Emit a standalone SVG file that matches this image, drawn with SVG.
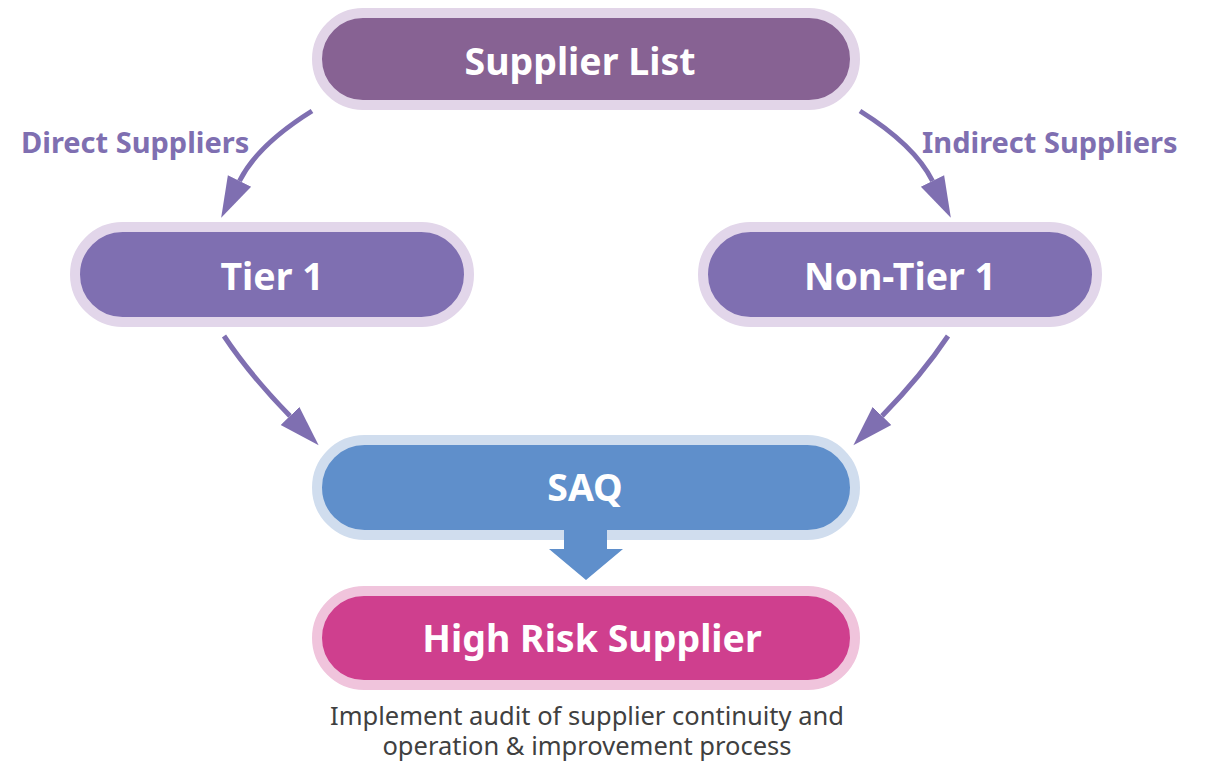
<svg xmlns="http://www.w3.org/2000/svg" width="1210" height="762" viewBox="0 0 1210 762">
<defs>
<style>
.node-text{font-family:"Noto Sans","Liberation Sans",sans-serif;font-weight:700;font-size:37.5px;fill:#ffffff;text-anchor:middle}
.label{font-family:"Noto Sans","Liberation Sans",sans-serif;font-weight:700;font-size:29px;fill:#7f6fb1}
.caption{font-family:"Noto Sans","Liberation Sans",sans-serif;font-weight:400;font-size:25.5px;fill:#404040;text-anchor:middle}
.conn{fill:none;stroke:#7f6fb1;stroke-width:5}
</style>
<marker id="ah" markerUnits="userSpaceOnUse" markerWidth="44" markerHeight="28" refX="0" refY="13" orient="auto" viewBox="0 0 44 26">
<path d="M0,0 L41,13 L0,26 Z" fill="#7f6fb1"/>
</marker>
</defs>

<g id="connectors">
<path class="conn" d="M312,111 Q257.5,145 239.5,181" marker-end="url(#ah)"/>
<path class="conn" d="M860,111 Q914.5,145 932.5,181" marker-end="url(#ah)"/>
<path class="conn" d="M224,336 Q250,375 290,416" marker-end="url(#ah)"/>
<path class="conn" d="M948,336 Q922,375 882,416" marker-end="url(#ah)"/>
</g>

<g id="label-direct"><text class="label" x="21" y="153">Direct Suppliers</text></g>
<g id="label-indirect"><text class="label" x="922" y="153">Indirect Suppliers</text></g>

<g id="supplier-list">
<rect x="317" y="13" width="538" height="92" rx="46" fill="#876293" stroke="#e2d5e8" stroke-width="10"/>
<text class="node-text" x="580" y="75">Supplier List</text>
</g>

<g id="tier1">
<rect x="75" y="227" width="394" height="95" rx="47.5" fill="#7f6fb1" stroke="#e2d6ea" stroke-width="10"/>
<text class="node-text" x="272" y="290">Tier 1</text>
</g>

<g id="non-tier1">
<rect x="703" y="227" width="394" height="95" rx="47.5" fill="#7f6fb1" stroke="#e2d6ea" stroke-width="10"/>
<text class="node-text" x="900" y="290">Non-Tier 1</text>
</g>

<g id="saq">
<rect x="317" y="440" width="538" height="95" rx="47.5" fill="#5f8fcb" stroke="#d0ddee" stroke-width="10"/>
<text class="node-text" x="585" y="501">SAQ</text>
</g>

<g id="saq-to-high">
<polygon points="564,527 607,527 607,549 623,549 586,580 549,549 564,549" fill="#5f8fcb"/>
</g>

<g id="high-risk">
<rect x="317" y="591" width="538" height="94" rx="47" fill="#cf3f8e" stroke="#f0c4dc" stroke-width="10"/>
<text class="node-text" x="592" y="652">High Risk Supplier</text>
</g>

<g id="caption">
<text class="caption"><tspan x="587" y="725">Implement audit of supplier continuity and</tspan><tspan x="587" y="755">operation &amp; improvement process</tspan></text>
</g>
</svg>
